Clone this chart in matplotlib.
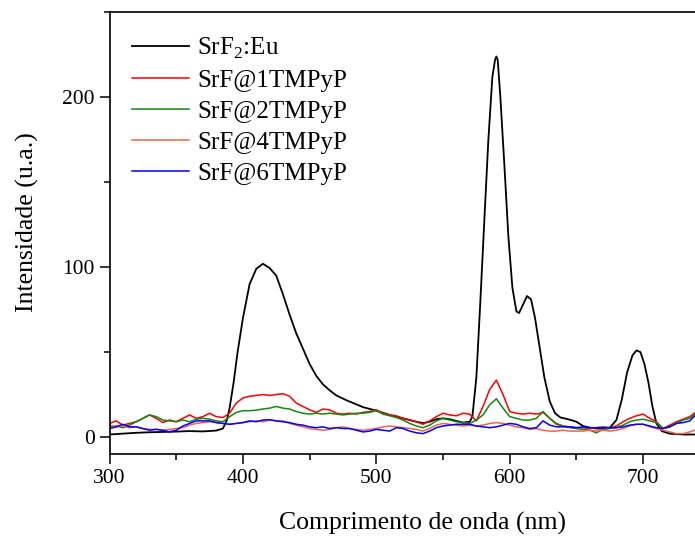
import numpy as np
import matplotlib.pyplot as plt
from matplotlib.ticker import MultipleLocator

plt.rcParams['font.family'] = ['Liberation Serif', 'DejaVu Serif']
plt.rcParams['mathtext.fontset'] = 'custom'
plt.rcParams['mathtext.rm'] = 'Liberation Serif'

# SrF2:Eu emission (smooth curve)
x_eu = [300, 310, 320, 330, 340, 350, 360, 370, 380, 385, 388, 390, 393, 396, 400,
        405, 410, 415, 420, 425, 430, 435, 440, 445, 450, 455, 460, 465, 470, 478,
        490, 500, 510, 520, 530, 535, 540, 545, 550, 555, 560, 565, 570, 572, 575,
        578, 581, 584, 587, 589, 590, 591, 593, 596, 599, 602, 605, 607, 610, 613,
        616, 619, 622, 626, 630, 634, 638, 642, 646, 650, 655, 660, 665, 670, 675,
        680, 684, 688, 692, 695, 698, 701, 704, 707, 710, 714, 720, 730, 740]
y_eu = [1.5, 2.0, 2.5, 2.8, 3.0, 3.2, 3.5, 3.3, 3.8, 5, 10, 17, 32, 50, 70,
        90, 99, 102, 99.5, 95, 84, 72, 61, 52, 43, 36, 31, 27.5, 24.5, 21.5,
        17.6, 15.5, 13, 11, 9, 8.2, 9, 10.5, 11, 10.5, 9.5, 8.5, 9, 12, 35,
        80, 128, 175, 212, 222, 224, 222, 200, 160, 118, 88, 74, 73, 78, 83,
        81, 70, 55, 35, 21, 14, 11.5, 10.8, 10, 9, 6.5, 5.5, 5, 5, 5.5,
        10, 22, 38, 48, 51, 50, 43, 32, 18, 8, 3.5, 2, 1.5, 1.5]

# TMPyP samples, every 5 nm from 300 to 740
wl = list(range(300, 745, 5))
y_1 = [8, 9.5, 7, 8, 9, 11, 13, 11, 8.5, 10, 9, 11, 13, 11, 12, 14, 12, 11.5, 14, 20,
       23, 24, 24.5, 25, 24.5, 25, 25.5, 24, 20, 18, 16, 14.5, 16.5, 16, 14, 13.5, 14, 13.5, 14.5, 15,
       16, 14, 13, 12.5, 11, 10, 9, 7.5, 9.5, 12, 14, 13, 12.5, 14, 13.5, 9.5, 18, 28, 33.5, 25,
       15, 14, 13.5, 14, 13.5, 14.5, 11, 7.5, 6.5, 6, 5.5, 5.5, 5, 5.5, 6, 5.5, 6.5, 9, 11, 12.5,
       13.5, 11, 9, 5, 7, 9, 10.5, 12, 15]
y_2 = [6, 6.5, 5.5, 7, 9, 11, 13, 12, 10, 9.5, 9, 10, 9, 10.5, 11, 10.5, 9.5, 9, 12, 14.5,
       15.5, 15.5, 15.8, 16.5, 17, 18, 17, 16.5, 15, 14, 13.5, 14, 13.5, 14, 13.5, 13, 13.5, 14, 14, 14.5,
       15.5, 13.5, 12.5, 11.5, 10, 8, 6.5, 5.5, 7, 9.5, 11, 10, 9, 8.5, 8, 10, 13, 19, 22.5, 17,
       12, 11, 10, 10, 11, 15, 11, 8, 6.5, 5.5, 5, 4.5, 4, 2.5, 4.5, 5, 5.5, 7, 9, 10,
       10.5, 9.5, 8.5, 5, 6, 8, 10, 11, 14]
y_4 = [7, 6, 6.5, 5.5, 6, 5, 4.5, 4.5, 4, 4.5, 5, 5.5, 7, 8, 8.5, 9, 8.5, 8, 7.5, 8,
       8.5, 9, 9.5, 9, 10, 9.5, 9.5, 8, 7, 6, 5, 4.5, 4, 4.5, 5.5, 6, 5, 4.5, 4, 4.5,
       5, 6, 6.5, 6, 5.5, 5, 4.5, 3.5, 5, 7, 8, 7.5, 7, 6.5, 7, 6.5, 7, 8, 8.5, 8,
       7, 6, 5.5, 4.5, 5, 4, 3.5, 3.5, 4, 3.5, 3.5, 3.5, 4, 3.5, 4, 3.5, 4, 5, 6.5, 7.5,
       7.5, 6, 5, 4, 3, 2, 2, 3, 4.5]
y_6 = [5, 6, 7.5, 6, 6, 5, 4, 4.5, 4, 3, 4, 6.5, 8, 9.5, 9.5, 9.5, 8.5, 8, 7.5, 8,
       8.5, 9.5, 9, 10, 10.2, 9.5, 9, 8.5, 7.5, 7, 6, 5.5, 6, 5, 5.5, 5, 5, 4, 3, 3.5,
       4.5, 4, 3.5, 5.5, 5, 3.5, 2.5, 2, 3.5, 5.5, 6.5, 7, 7.5, 7.5, 7.5, 6.5, 6, 5.5, 6, 7,
       8, 7.5, 6, 5, 5.5, 9.5, 7, 6, 6, 6, 5.5, 6, 5.5, 5.5, 5.5, 5.5, 5.5, 6, 7, 7.5,
       7.5, 6.5, 5.5, 5, 6, 8, 8.5, 9.5, 13.5]

labels = ['SrF$_2$:Eu', 'SrF@1TMPyP', 'SrF@2TMPyP', 'SrF@4TMPyP', 'SrF@6TMPyP']
colors = ['black', '#ff0000', '#118811', '#f0644c', '#0000ff']

fig = plt.figure(figsize=(6.95, 5.38), dpi=100)
ax = fig.add_axes([0.1576, 0.1561, 0.8445, 0.821])

ax.plot(x_eu, y_eu, color=colors[0], lw=1.3, label=labels[0])
for ys, c, lab in zip([y_1, y_2, y_4, y_6], colors[1:], labels[1:]):
    ax.plot(wl, ys, color=c, lw=1.1, label=lab)

ax.set_xlim(300, 740)
ax.set_ylim(-10, 250)
ax.xaxis.set_major_locator(MultipleLocator(100))
ax.xaxis.set_minor_locator(MultipleLocator(50))
ax.yaxis.set_major_locator(MultipleLocator(100))
ax.yaxis.set_minor_locator(MultipleLocator(50))
ax.tick_params(which='major', direction='out', length=7, width=1.1, labelsize=15.5)
ax.tick_params(which='minor', direction='out', length=4, width=1.1)
for sp in ax.spines.values():
    sp.set_linewidth(1.2)

ax.set_xlabel('Comprimento de onda (nm)', fontsize=18.5)
ax.xaxis.set_label_coords(0.534, -0.131)
ax.set_ylabel('Intensidade (u.a.)', fontsize=18.5)
ax.yaxis.set_label_coords(-0.12, 0.524)

ax.legend(loc='upper left', frameon=False, fontsize=18, handlelength=2.3,
          handletextpad=0.3, labelspacing=0.34, bbox_to_anchor=(0.004, 0.993),
          borderaxespad=0.4)

fig.savefig('out.png', dpi=100)
